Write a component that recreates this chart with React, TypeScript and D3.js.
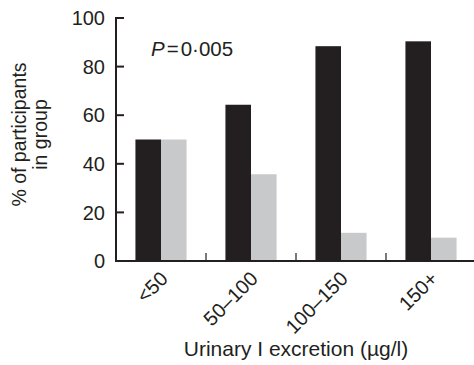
import React from "react";
import * as d3 from "d3";

const categories = ["<50", "50–100", "100–150", "150+"];
const seriesA = [50, 64.3, 88.4, 90.4];
const seriesB = [50, 35.7, 11.6, 9.6];
const yTicks = [0, 20, 40, 60, 80, 100];

const W = 474;
const H = 365;
const left = 116;
const right = 476;
const top = 18;
const bottom = 261;
const font = "'Liberation Sans', Arial, Helvetica, sans-serif";
const ink = "#231f20";

export default function App() {
  const x = d3.scaleBand<string>().domain(categories).range([left, right]).paddingInner(0).paddingOuter(0);
  const y = d3.scaleLinear().domain([0, 100]).range([bottom, top]);
  const inner = d3.scaleBand<number>().domain([0, 1]).range([0, x.bandwidth()]).paddingOuter(0.76).paddingInner(0);
  const colors = [ink, "#c8c9cb"];
  const series = [seriesA, seriesB];

  return (
    <svg width={W} height={H} style={{ position: "absolute", left: 0, top: 0, background: "#fff" }} fontFamily={font}>
      {categories.map((c, i) =>
        series.map((s, k) => (
          <rect
            key={c + k}
            x={(x(c) as number) + (inner(k) as number)}
            y={y(s[i])}
            width={inner.bandwidth()}
            height={bottom - y(s[i])}
            fill={colors[k]}
          />
        ))
      )}
      {/* y axis */}
      <line x1={left} x2={left} y1={top - 1} y2={bottom + 1} stroke={ink} strokeWidth={2} />
      {yTicks.map((t) => (
        <g key={t}>
          <line x1={left} x2={left + 8} y1={y(t)} y2={y(t)} stroke={ink} strokeWidth={2} />
          <text x={left - 11} y={y(t)} dy="0.36em" textAnchor="end" fontSize={20} fill={ink}>
            {t}
          </text>
        </g>
      ))}
      {/* x axis */}
      <line x1={left - 1} x2={W} y1={bottom} y2={bottom} stroke={ink} strokeWidth={2} />
      {categories.slice(1).map((c) => (
        <line key={c} x1={x(c) as number} x2={x(c) as number} y1={bottom} y2={bottom - 8} stroke={ink} strokeWidth={1.2} />
      ))}
      {categories.map((c) => {
        const cx = (x(c) as number) + x.bandwidth() / 2 + 8;
        const cy = bottom + 19;
        return (
          <text key={c} transform={`translate(${cx},${cy}) rotate(-45)`} textAnchor="end" fontSize={20} fill={ink}>
            {c}
          </text>
        );
      })}
      <text x={296} y={356} textAnchor="middle" fontSize={21} fill={ink}>
        Urinary I excretion (µg/l)
      </text>
      <g transform="translate(26,134.5) rotate(-90)">
        <text x={0} y={0} textAnchor="middle" fontSize={19.5} fill={ink}>% of participants</text>
        <text x={0} y={21} textAnchor="middle" fontSize={19.5} fill={ink}>in group</text>
      </g>
      <text x={151} y={56} fontSize={20.5} fill={ink}>
        <tspan fontStyle="italic">P</tspan>
        <tspan dx={2}>=</tspan>
        <tspan dx={2}>0·005</tspan>
      </text>
    </svg>
  );
}
